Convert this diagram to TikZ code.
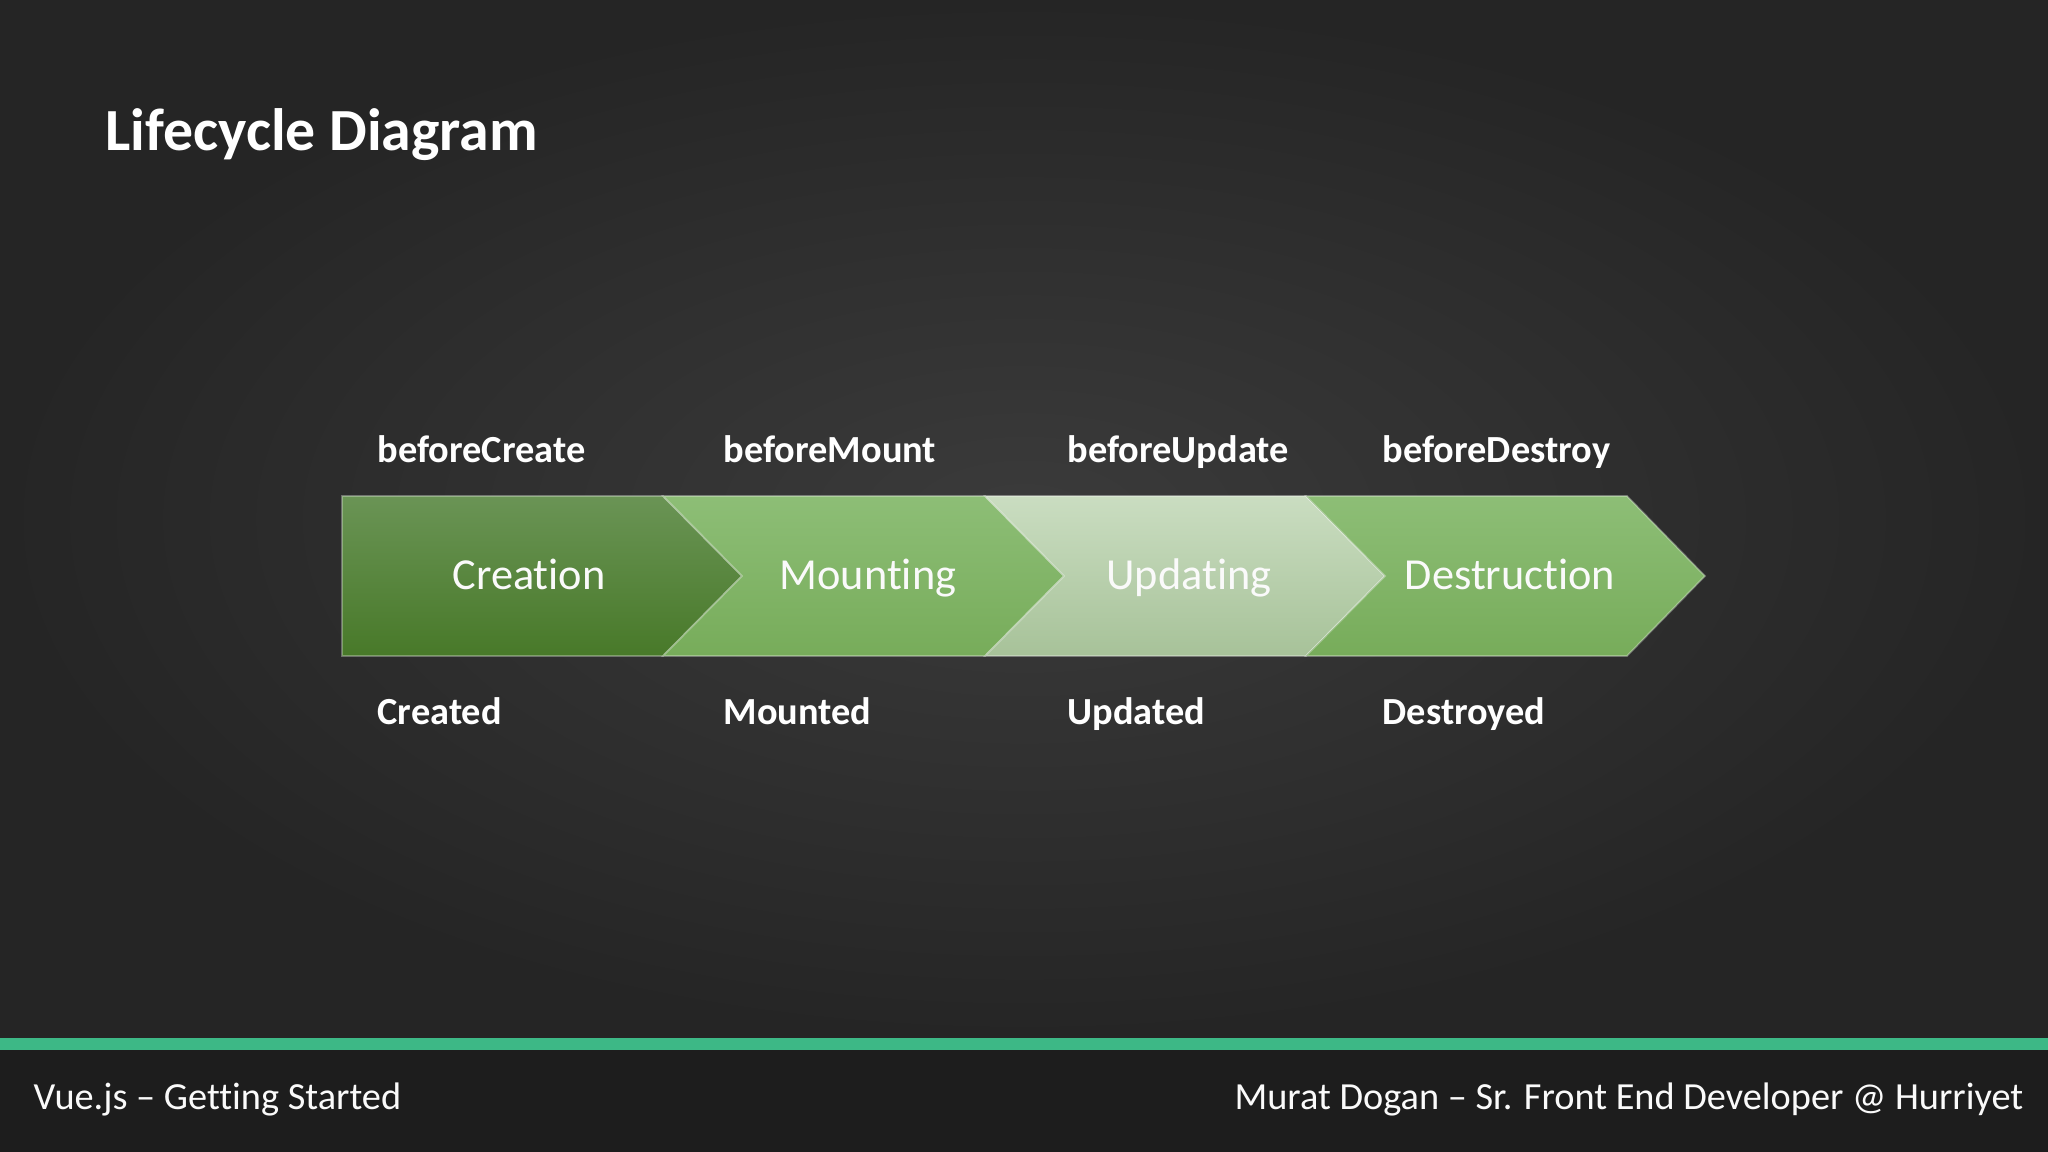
\documentclass[tikz,border=0pt]{standalone}
\usepackage{fontspec}
\setmainfont[Ligatures=NoCommon]{Carlito}
\usepackage{tikz}
\usetikzlibrary{positioning}
\definecolor{LCBoard}{HTML}{2C2C2C}
\definecolor{LCBoardLight}{HTML}{3B3B3B}
\definecolor{LCBoardDark}{HTML}{252525}
\definecolor{LCFooter}{HTML}{1D1D1D}
\definecolor{LCBar}{HTML}{3DB886}
\definecolor{LCDeepTop}{HTML}{6A9455}
\definecolor{LCDeepBot}{HTML}{487929}
\definecolor{LCMidTop}{HTML}{8DBE76}
\definecolor{LCMidBot}{HTML}{77AC5A}
\definecolor{LCPaleTop}{HTML}{CADDC1}
\definecolor{LCPaleBot}{HTML}{A7C299}
\definecolor{LCText}{HTML}{FAFAFA}

\begin{document}
\begin{tikzpicture}[x=0.01cm,y=-0.01cm,
      phase/.style={draw=white,draw opacity=0.3,line width=0.5pt},
      phaselabel/.style={anchor=base,inner sep=0pt,text=LCText,font=\fontsize{12.6pt}{15pt}\selectfont},
      hook/.style={anchor=base west,inner sep=0pt,text=white,font=\fontsize{10.9pt}{13pt}\selectfont\bfseries},
      footnote/.style={inner sep=0pt,text=LCText,font=\fontsize{10.9pt}{13pt}\selectfont}
    ]
    \useasboundingbox (0,0) rectangle (2048,1152);
    \fill[LCBoard] (0,0) rectangle (2048,1152);
    \shade[inner color=LCBoardLight,outer color=LCBoardDark] (0,0) rectangle (2048,1038);
    \fill[LCFooter] (0,1050) rectangle (2048,1152);
    \fill[LCBar] (0,1038) rectangle (2048,1050);

    \node[anchor=base west,inner sep=0pt,text=white,font=\fontsize{17pt}{20pt}\selectfont\bfseries]
      (title) at (105,151) {Lifecycle Diagram};

    \shade[phase,top color=LCDeepTop,bottom color=LCDeepBot]
      (342,496) -- (663,496) -- (742,576) -- (663,656) -- (342,656) -- cycle;
    \shade[phase,top color=LCMidTop,bottom color=LCMidBot]
      (663,496) -- (985,496) -- (1064,576) -- (985,656) -- (663,656) -- (742,576) -- cycle;
    \shade[phase,top color=LCPaleTop,bottom color=LCPaleBot]
      (985,496) -- (1306,496) -- (1385,576) -- (1306,656) -- (985,656) -- (1064,576) -- cycle;
    \shade[phase,top color=LCMidTop,bottom color=LCMidBot]
      (1306,496) -- (1627,496) -- (1705,576) -- (1627,656) -- (1306,656) -- (1385,576) -- cycle;

    \node[phaselabel] (creation) at (529,590) {Creation};
    \node[phaselabel] (mounting) at (868,590) {Mounting};
    \node[phaselabel] (updating) at (1189,590) {Updating};
    \node[phaselabel] (destruction) at (1510,590) {Destruction};

    \node[hook] (bcreate) at (377,463) {beforeCreate};
    \node[hook] (bmount) at (723,463) {beforeMount};
    \node[hook] (bupdate) at (1067,463) {beforeUpdate};
    \node[hook] (bdestroy) at (1382,463) {beforeDestroy};

    \node[hook] (created) at (377,724) {Created};
    \node[hook] (mounted) at (723,724) {Mounted};
    \node[hook] (updated) at (1067,724) {Updated};
    \node[hook] (destroyed) at (1382,724) {Destroyed};

    \node[footnote,anchor=base west] (course) at (33,1109) {Vue.js – Getting Started};
    \node[footnote,anchor=base east] (speaker) at (2024,1109)
      {Murat Dogan – Sr. Front End Developer @ Hurriyet};
  \end{tikzpicture}
\end{document}
